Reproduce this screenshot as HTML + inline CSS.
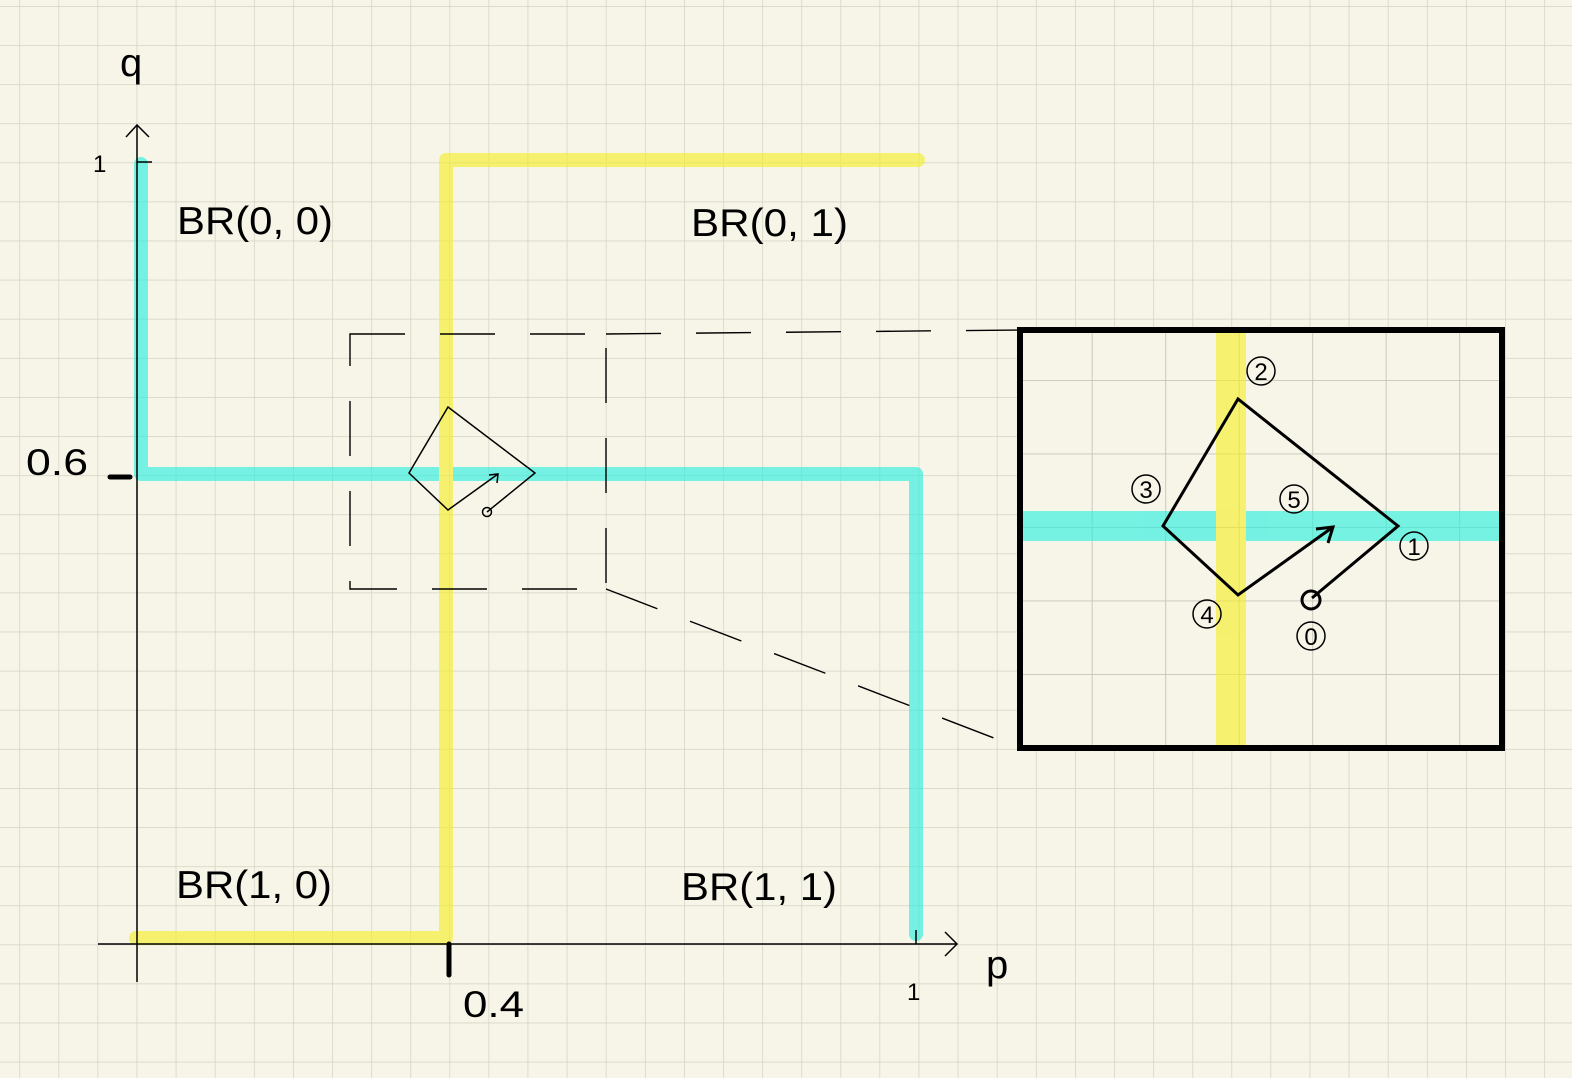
<!DOCTYPE html>
<html><head><meta charset="utf-8"><style>
html,body{margin:0;padding:0;background:#f7f5e8;}
svg{display:block;}
text{font-family:"Liberation Sans","Noto Sans CJK JP",sans-serif;fill:#000;}
</style></head><body>
<svg width="1572" height="1078" viewBox="0 0 1572 1078" xmlns="http://www.w3.org/2000/svg">
<defs>
<pattern id="g" x="19.3" y="6" width="39.1" height="39.1" patternUnits="userSpaceOnUse">
<path d="M0 0H39.1M0 0V39.1" stroke="#d3d1c2" stroke-width="1.4" fill="none"/>
</pattern>
<pattern id="g2" x="1091.7" y="380" width="73.5" height="73.5" patternUnits="userSpaceOnUse">
<path d="M0 0H73.5M0 0V73.5" stroke="#c6c5b8" stroke-width="1.8" fill="none"/>
</pattern>
</defs>
<rect width="1572" height="1078" fill="#f7f5e8"/>
<rect width="1572" height="1078" fill="url(#g)"/>

<g fill="none" stroke-linecap="round" stroke-linejoin="round" stroke-width="14" opacity="0.6">
<polyline points="141,164 141,474 916,474 916,934" stroke="#1ff0e0"/>
<polyline points="918,160 446,160 446,938 136,938" stroke="#f5f020"/>
</g>

<g stroke="#000" fill="none" stroke-width="1.5">
<line x1="137" y1="125" x2="137" y2="982"/>
<polyline points="126,137 137,125 149,137"/>
<line x1="98" y1="944" x2="957" y2="944"/>
<polyline points="945,932 957,944 945,956"/>
<line x1="137" y1="162" x2="152" y2="162"/>
<line x1="916" y1="930" x2="916" y2="944"/>
</g>
<line x1="110" y1="477" x2="130" y2="477" stroke="#000" stroke-width="5" stroke-linecap="round"/>
<line x1="449" y1="944" x2="449" y2="975" stroke="#000" stroke-width="5" stroke-linecap="round"/>

<text x="120" y="76" font-size="40">q</text>
<text x="93" y="172" font-size="24">1</text>
<text x="26" y="475" font-size="37" textLength="62" lengthAdjust="spacingAndGlyphs">0.6</text>
<text x="463" y="1017" font-size="37" textLength="61" lengthAdjust="spacingAndGlyphs">0.4</text>
<text x="907" y="1000" font-size="24">1</text>
<text x="986" y="978" font-size="40">p</text>
<text x="177" y="234" font-size="39" textLength="156" lengthAdjust="spacingAndGlyphs">BR(0, 0)</text>
<text x="691" y="236" font-size="39" textLength="157" lengthAdjust="spacingAndGlyphs">BR(0, 1)</text>
<text x="176" y="898" font-size="39" textLength="156" lengthAdjust="spacingAndGlyphs">BR(1, 0)</text>
<text x="681" y="900" font-size="39" textLength="156" lengthAdjust="spacingAndGlyphs">BR(1, 1)</text>

<g stroke="#000" fill="none" stroke-width="1.5">
<polyline points="487,512 535,473 448,407 409,473 448,510 498,474"/>
<polyline points="489,475 498,474 497,483"/>
<circle cx="487" cy="512" r="4.5"/>
</g>

<g stroke="#000" fill="none" stroke-width="1.4" stroke-dasharray="55,35">
<rect x="350" y="334" width="256" height="255"/>
<line x1="606" y1="334" x2="1020" y2="330"/>
<line x1="606" y1="589" x2="1020" y2="748"/>
</g>

<rect x="1020" y="330" width="482" height="418" fill="#f7f5e8"/>
<rect x="1020" y="330" width="482" height="418" fill="url(#g2)"/>
<g opacity="0.6">
<rect x="1020" y="511" width="482" height="30" fill="#1ff0e0"/>
<rect x="1216" y="330" width="30" height="418" fill="#f5f020"/>
</g>
<rect x="1020" y="330" width="482" height="418" fill="none" stroke="#000" stroke-width="6"/>
<g stroke="#000" fill="none" stroke-width="3">
<polyline points="1312,598 1398,526 1238,399 1163,526 1238,595 1333,527"/>
<polyline points="1316,529 1333,527 1328,543"/>
<circle cx="1311" cy="600" r="9"/>
</g>
<g fill="none" stroke="#000" stroke-width="1.5">
<circle cx="1261" cy="371" r="14"/>
<circle cx="1146" cy="489" r="14"/>
<circle cx="1294" cy="499" r="14"/>
<circle cx="1414" cy="546" r="14"/>
<circle cx="1207" cy="614" r="14"/>
<circle cx="1311" cy="636" r="14"/>
</g>
<g font-size="24" text-anchor="middle">
<text x="1261" y="380">2</text>
<text x="1146" y="498">3</text>
<text x="1294" y="508">5</text>
<text x="1414" y="555">1</text>
<text x="1207" y="623">4</text>
<text x="1311" y="645">0</text>
</g>
</svg>
</body></html>
